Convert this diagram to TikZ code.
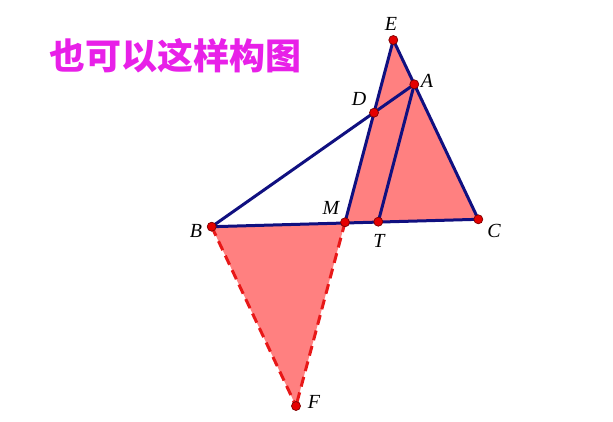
\documentclass[tikz,border=0pt]{standalone}
\usepackage{fontspec}
\setmainfont{Liberation Serif}
\newfontfamily\cjk{Noto Sans CJK SC}
\definecolor{titlemag}{RGB}{232,32,232}
\definecolor{pinkfill}{RGB}{255,128,128}
\definecolor{segblue}{RGB}{16,16,128}
\definecolor{dashred}{RGB}{232,24,24}
\definecolor{ptred}{RGB}{228,0,0}
\tikzset{
  seg/.style={segblue, line width=3pt, line cap=round},
  dseg/.style={dashred, line width=3pt, dash pattern=on 10pt off 6pt},
  pt/.style={circle, fill=ptred, draw=ptred!55!black, line width=0.7pt, inner sep=0pt, minimum size=9pt},
  lbl/.style={font=\itshape\fontsize{20}{20}\selectfont}
}
\begin{document}
\begin{tikzpicture}[x=1pt,y=-1pt]
\useasboundingbox (0,0) rectangle (613,421);
\coordinate(E) at (393.3,40);
\coordinate(A) at (414.3,84.3);
\coordinate(D) at (374,112.7);
\coordinate(M) at (345,222.3);
\coordinate(T) at (378.3,221.7);
\coordinate(C) at (478.3,219.3);
\coordinate(B) at (211.7,226.7);
\coordinate(F) at (296,406);
% filled triangles
\fill[pinkfill] (E) -- (M) -- (C) -- cycle;
\fill[pinkfill] (B) -- (M) -- (F) -- cycle;
% dashed sides
\draw[dseg] (B) -- (F);
\draw[dseg] (M) -- (F);
% segments
\draw[seg] (B) -- (C);
\draw[seg] (B) -- (A);
\draw[seg] (E) -- (C);
\draw[seg] (E) -- (M);
\draw[seg] (A) -- (T);
% points
\foreach \p in {E,A,D,M,T,C,B,F} \node[pt] (p\p) at (\p) {};
% labels
\node[lbl] (lE) at (391,24) {E};
\node[lbl] (lA) at (427,81) {A};
\node[lbl] (lD) at (359,99) {D};
\node[lbl] (lM) at (331,208) {M};
\node[lbl] (lT) at (379,241) {T};
\node[lbl] (lC) at (494,231) {C};
\node[lbl] (lB) at (196,231) {B};
\node[lbl] (lF) at (314,402) {F};
\node[text=titlemag, font=\cjk\bfseries\fontsize{36}{36}\selectfont] (title) at (175,56) {也可以这样构图};
\end{tikzpicture}
\end{document}
